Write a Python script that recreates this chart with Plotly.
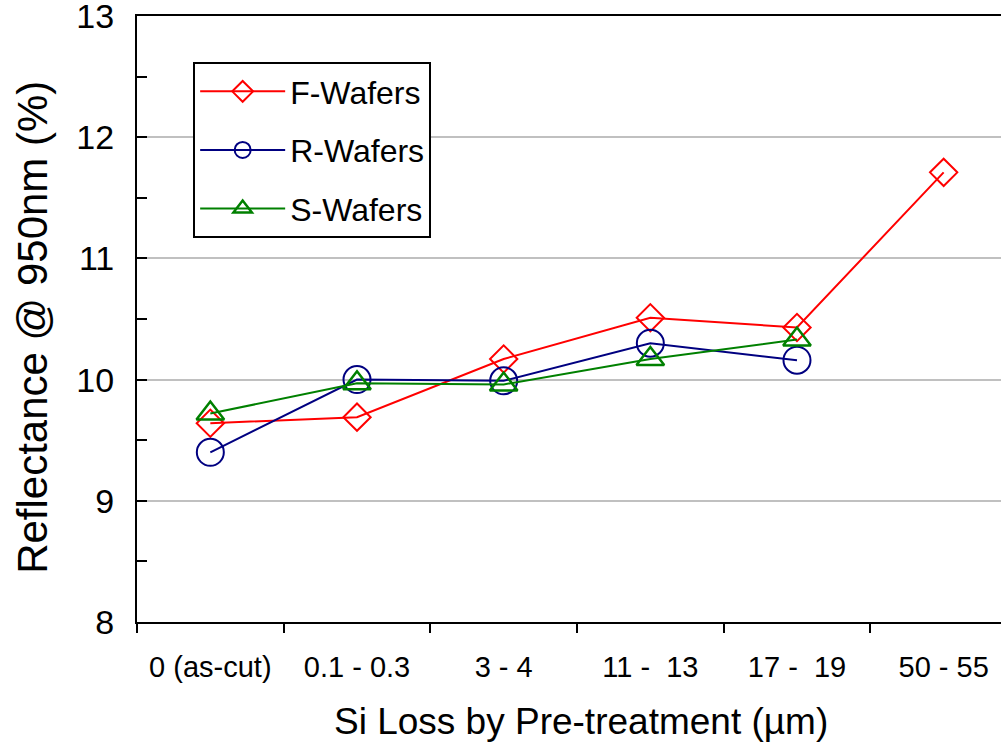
import plotly.graph_objects as go

categories = ["0 (as-cut)", "0.1 - 0.3", "3 - 4", "11 -  13", "17 -  19", "50 - 55"]
f_wafers = [9.64, 9.69, 10.17, 10.51, 10.43, 11.71]
r_wafers = [9.40, 10.00, 9.99, 10.30, 10.16]
s_wafers = [9.72, 9.97, 9.96, 10.17, 10.33]

FONT = "Liberation Sans, Arial, sans-serif"

fig = go.Figure()
fig.add_trace(go.Scatter(
    x=categories, y=f_wafers, name="F-Wafers", mode="lines+markers",
    line=dict(color="#FF0000", width=2),
    marker=dict(symbol="diamond-open", size=21, color="#FF0000", line=dict(width=2)),
    legendgroup="f"))
fig.add_trace(go.Scatter(
    x=categories[:len(r_wafers)], y=r_wafers, name="R-Wafers", mode="lines+markers",
    line=dict(color="#000080", width=2),
    marker=dict(symbol="circle-open", size=27, color="#000080", line=dict(width=2)),
    legendgroup="r"))
fig.add_trace(go.Scatter(
    x=categories[:len(s_wafers)], y=s_wafers, name="S-Wafers", mode="lines+markers",
    line=dict(color="#008000", width=2),
    marker=dict(symbol="triangle-up-open", size=24, color="#008000", line=dict(width=2.5)),
    legendgroup="s"))

fig.update_layout(
    width=1001, height=747,
    margin=dict(l=137, r=0, t=16, b=125, autoexpand=False),
    paper_bgcolor="white", plot_bgcolor="white",
    font=dict(family=FONT, color="black"),
    showlegend=True,
    legend=dict(
        x=0.065, y=0.924, xanchor="left", yanchor="top",
        bgcolor="white", bordercolor="black", borderwidth=2,
        font=dict(size=32, family=FONT),
        tracegroupgap=14, itemwidth=85,
        entrywidth=245, entrywidthmode="pixels",
    ),
    xaxis=dict(
        type="category", range=[-0.5, 5.391], automargin=False,
        showline=True, linecolor="black", linewidth=2, mirror=True,
        ticks="outside", tickson="boundaries", ticklen=9, tickwidth=2, tickcolor="black",
        showgrid=False, zeroline=False,
        tickfont=dict(size=29, family=FONT),
        ticklabelstandoff=18,
        ticklabeloverflow="allow",
    ),
    yaxis=dict(
        range=[8, 13], dtick=1, tick0=8, automargin=False,
        showline=True, linecolor="black", linewidth=2,
        ticks="inside", ticklen=10, tickwidth=2, tickcolor="black",
        showgrid=True, gridcolor="#C0C0C0", gridwidth=2,
        zeroline=False,
        minor=dict(dtick=0.5, ticks="inside", ticklen=10, tickwidth=2, tickcolor="black", showgrid=False),
        tickfont=dict(size=34, family=FONT),
        ticklabelstandoff=14,
        ticklabeloverflow="allow",
    ),
    annotations=[
        dict(text="Si Loss by Pre-treatment (µm)", xref="paper", yref="paper",
             x=0.514, y=-0.165, xanchor="center", yanchor="middle", showarrow=False,
             font=dict(size=37, family=FONT)),
        dict(text="Reflectance @ 950nm (%)", xref="paper", yref="paper",
             x=-0.1204, y=0.487, xanchor="center", yanchor="middle", showarrow=False,
             textangle=-90, font=dict(size=42, family=FONT)),
    ],
)

fig.write_html("out.html")
